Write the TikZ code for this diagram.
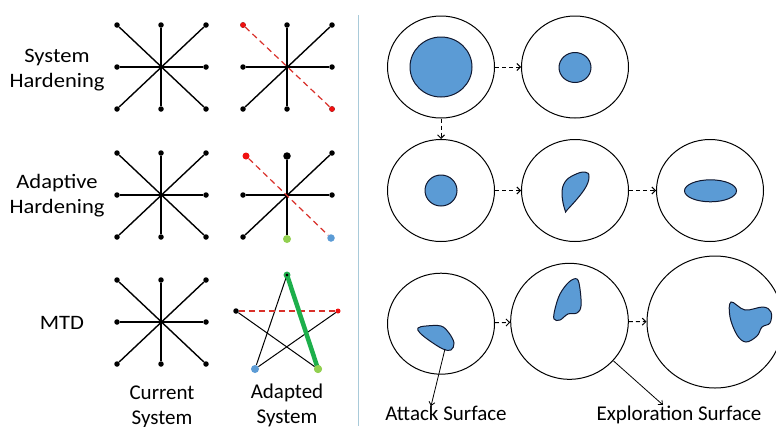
\documentclass[tikz,border=0pt]{standalone}
\usepackage{fontspec}
\setmainfont{Carlito}
\newfontfamily\widefont[FakeStretch=1.1]{Carlito}
\usetikzlibrary{arrows.meta,shapes.geometric}
\definecolor{fillblue}{HTML}{5B9BD5}
\definecolor{sepblue}{HTML}{A9CAD9}
\definecolor{dashred}{HTML}{D9302A}
\definecolor{dotred}{HTML}{F01010}
\definecolor{thickgreen}{HTML}{1DAF4B}
\definecolor{dotgreen}{HTML}{92D050}
\definecolor{outline}{HTML}{101830}
\newcommand\mystarnodes[3]{%
  \foreach \n/\dx/\dy in {tl/-44/-42,tc/0/-42,tr/45/-42,ml/-44/0,mr/45/0,bl/-44/42,bc/0/42,br/45/42}
    \node[dot] (#1\n) at ({#2+(\dx)},{#3+(\dy)}) {};
}
\begin{document}
\begin{tikzpicture}[x=1pt,y=-1pt,
  dot/.style={circle,fill=black,inner sep=0pt,minimum size=5.5pt},
  reddot/.style={dot,fill=dotred},
  edge/.style={line width=1.4pt},
  thinedge/.style={line width=1pt},
  reddash/.style={dashred,line width=1.2pt,dash pattern=on 6pt off 4pt},
  surf/.style={draw,ellipse,line width=1pt,inner sep=0pt},
  blob/.style={fill=fillblue,draw=outline,line width=1pt},
  flow/.style={line width=1pt,dash pattern=on 4pt off 3pt,-{Straight Barb[length=3.5pt,width=7pt]}},
  ptr/.style={line width=0.8pt,-{Straight Barb[length=3.5pt,width=6pt]}},
  lbl/.style={font=\fontsize{21}{25}\selectfont,align=center,inner sep=0pt},
  rowlbl/.style={font=\widefont\fontsize{20.5}{25}\selectfont,align=center,inner sep=0pt}]
\useasboundingbox (0,0) rectangle (776,426);
\fill[white] (0,0) rectangle (776,426);

% separator
\draw[sepblue,line width=1.5pt] (358.5,15) -- (358.5,426);

% row labels (anchor base = last line baseline)
\node[rowlbl,anchor=base] (lsh) at (57,87) {System\\Hardening};
\node[rowlbl,anchor=base] (lah) at (57,213.5) {Adaptive\\Hardening};
\node[rowlbl,anchor=base] (lmtd) at (62,329.5) {MTD};
\node[lbl,anchor=base] (lcur) at (162,424.5) {Current\\System};
\node[lbl,anchor=base] (lada) at (287,423.5) {Adapted\\System};

% current system stars
\foreach \p/\cy in {ca/67,cb/195,cc/322}{
  \mystarnodes{\p}{161}{\cy}
  \draw[edge] (\p tl) -- (\p br);
  \draw[edge] (\p tc) -- (\p bc);
  \draw[edge] (\p tr) -- (\p bl);
  \draw[edge] (\p ml) -- (\p mr);
}

% adapted, system hardening
\mystarnodes{ha}{287}{67}
\node[reddot] at (hatl) {};
\node[reddot] at (habr) {};
\draw[edge] (hatc) -- (habc);
\draw[edge] (hatr) -- (habl);
\draw[edge] (haml) -- (hamr);
\draw[reddash] (hatl) -- (habr);

% adapted, adaptive hardening
\node[dot,fill=dotred,minimum size=7pt] (aared) at (246,156) {};
\node[dot,minimum size=7.5pt] (aatop) at (287,156) {};
\node[dot] (aatr) at (332,153) {};
\node[dot] (aaml) at (243,195) {};
\node[dot] (aamr) at (332,195) {};
\node[dot] (aabl) at (243,237) {};
\node[dot,fill=dotgreen,minimum size=8pt] (aagreen) at (287,239) {};
\node[dot,fill=fillblue,minimum size=7.5pt] (aablue) at (331,238) {};
\draw[edge] (aatop) -- (aagreen);
\draw[edge] (aaml) -- (aamr);
\draw[edge] (aabl) -- (aatr);
\draw[reddash] (aared) -- (aablue);

% adapted, MTD pentagram
\node[dot,minimum size=5pt] (ptop) at (287,275) {};
\node[dot] (pl) at (236,311) {};
\node[reddot,minimum size=5pt] (pr) at (338,311) {};
\node[dot,fill=fillblue,minimum size=8pt] (pbl) at (255,369) {};
\node[dot,fill=dotgreen,minimum size=8pt] (pbr) at (318,369) {};
\draw[thinedge] (ptop.center) -- (pbl);
\draw[thinedge] (pbl) -- (pr);
\draw[thinedge] (pl) -- (pbr);
\draw[reddash] (pl) -- (pr);
\draw[thickgreen,line width=4.5pt] (ptop.center) -- (pbr.center);
\node[dot,minimum size=5pt,draw=thickgreen,line width=1.8pt] at (ptop) {};
\node[dot,fill=dotgreen,minimum size=8pt] at (pbr) {};

% surfaces row 1
\node[surf,minimum width=107pt,minimum height=102pt] (c11) at (441,67) {};
\node[surf,minimum width=107pt,minimum height=102pt] (c12) at (575,67) {};
\node[ellipse,blob,minimum width=62pt,minimum height=60pt,inner sep=0pt] (i11) at (441,67) {};
\node[ellipse,blob,minimum width=32pt,minimum height=30pt,inner sep=0pt] (i12) at (575,67.5) {};
\draw[flow] (c11) -- (c12);

% surfaces row 2
\node[surf,minimum width=107pt,minimum height=102pt] (c21) at (441,190.5) {};
\node[surf,minimum width=107pt,minimum height=102pt] (c22) at (575,190.5) {};
\node[surf,minimum width=107pt,minimum height=102pt] (c23) at (710,190.5) {};
\node[ellipse,blob,minimum width=32pt,minimum height=31pt,inner sep=0pt] (i21) at (441,190.5) {};
\draw[blob] plot[smooth cycle,tension=0.7] coordinates {(565,210) (562,194) (565,182) (574,175) (585,172) (589,177) (584,190) (568,209)};
\node[ellipse,blob,minimum width=52pt,minimum height=22pt,inner sep=0pt] (i23) at (710.5,190.8) {};
\draw[flow] (c11) -- (c21);
\draw[flow] (c21) -- (c22);
\draw[flow] (c22) -- (c23);

% surfaces row 3
\node[surf,minimum width=107pt,minimum height=101pt] (c31) at (441,323.7) {};
\node[surf,minimum width=117.6pt,minimum height=116pt] (c32) at (569.5,321.3) {};
\node[surf,minimum width=136pt,minimum height=132pt] (c33) at (715,322) {};
\draw[blob] plot[smooth cycle,tension=0.6] coordinates {(418,328) (426,326) (441,326) (449,333) (454,343) (451,350) (443,349) (430,341) (420,333)};
\draw[blob] plot[smooth cycle,tension=0.6] coordinates {(577,279) (580,289) (581,306) (577,313) (568,314) (560,320) (554,319) (555,309) (560,294) (569,282)};
\draw[blob] plot[smooth cycle,tension=0.6] coordinates {(731,302) (745,310) (763,307) (771,312) (770,323) (762,327) (757,336) (746,342) (737,335) (730,317)};
\draw[flow] (c31) -- (c32);
\draw[flow] (c32) -- (c33);

% pointers and labels
\coordinate (asrc) at (445,349);
\coordinate (atip) at (431,406);
\coordinate (etip) at (663,405);
\draw[ptr] (asrc) -- (atip);
\draw[ptr] (c32.-42) -- (etip);
\node[lbl,anchor=base] (latk) at (446,420.5) {Attack Surface};
\node[lbl,anchor=base] (lexp) at (679,420.5) {Exploration Surface};
\end{tikzpicture}
\end{document}
